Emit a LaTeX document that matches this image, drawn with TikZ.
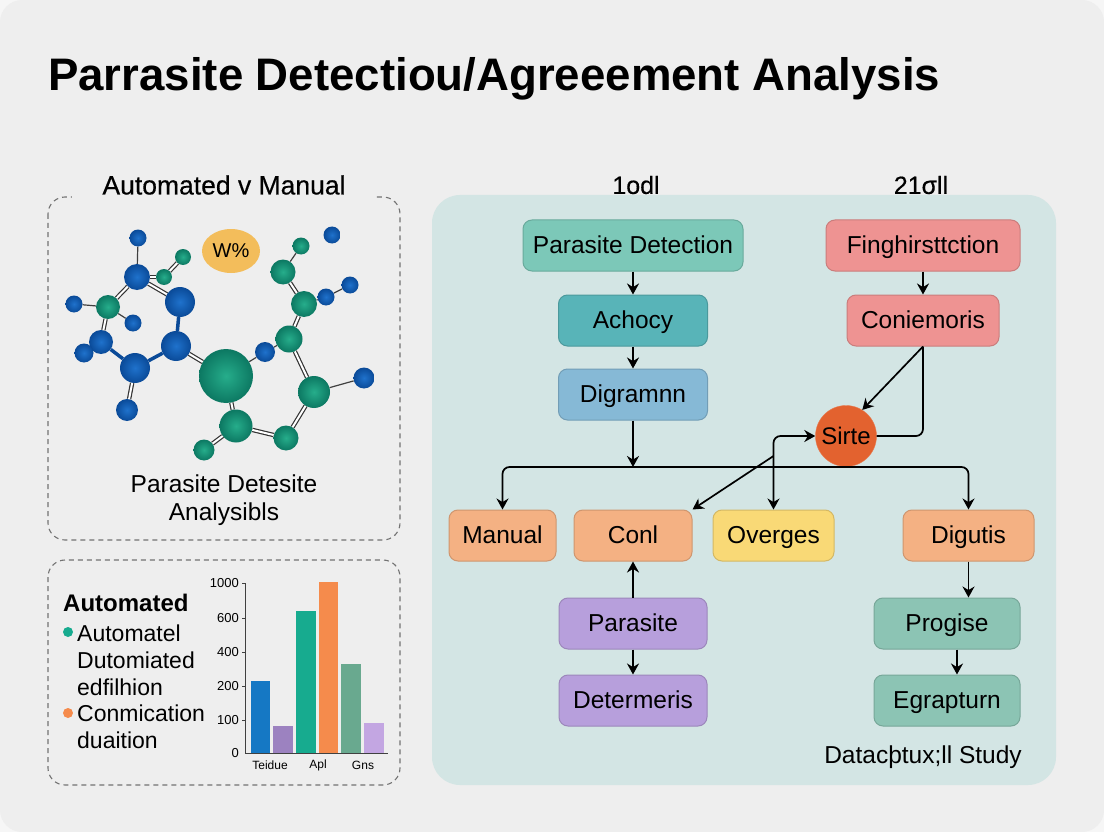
\documentclass[tikz,border=0pt]{standalone}
\usepackage{fontspec}
\setmainfont{Liberation Sans}
\newfontfamily\medfont[FakeBold=0.4]{Liberation Sans}
\usepackage{xcolor}
\usetikzlibrary{arrows.meta,positioning,calc,backgrounds,shapes.geometric}
\definecolor{outerbg}{HTML}{F6F6F6}
\definecolor{pagebg}{HTML}{EEEEEE}
\definecolor{panelbg}{HTML}{D3E5E4}
\definecolor{tealbox}{HTML}{7CC8B8}
\definecolor{cyanbox}{HTML}{58B4B8}
\definecolor{bluebox}{HTML}{86B9D6}
\definecolor{redbox}{HTML}{EE9392}
\definecolor{orangebox}{HTML}{F4B183}
\definecolor{yellowbox}{HTML}{F9D976}
\definecolor{purplebox}{HTML}{B79FDC}
\definecolor{greenbox}{HTML}{8CC4B4}
\definecolor{atomblue}{HTML}{1F72CC}
\definecolor{atomblued}{HTML}{0A4A98}
\definecolor{atomgreen}{HTML}{26AD8B}
\definecolor{atomgreend}{HTML}{0C7862}
\definecolor{badgec}{HTML}{F3BD5B}
\definecolor{sirtec}{HTML}{E3622F}
\definecolor{barblue}{HTML}{1578C4}
\definecolor{barteal}{HTML}{17AB8F}
\definecolor{barorange}{HTML}{F58B4C}
\definecolor{bargreen}{HTML}{69A98F}
\definecolor{barpurple}{HTML}{9C82C0}
\definecolor{barlilac}{HTML}{C3A6E2}
\newcommand{\fs}[1]{\fontsize{#1}{#1}\selectfont}

\begin{document}
\begin{tikzpicture}[x=1pt,y=-1pt,
    bx/.style={draw=#1!85!black,fill=#1,rounded corners=9pt,line width=1pt,minimum height=51pt,align=center,text height=21pt,text depth=5pt,inner ysep=0pt,font=\fs{24.5}},
    ar/.style={-{Stealth[length=11pt,width=12pt]},line width=1.7pt},
    ln/.style={line width=1.7pt},
    bl/.style={circle,inner sep=0pt,inner color=atomblue,outer color=atomblued,minimum size=#1},
    gr/.style={circle,inner sep=0pt,inner color=atomgreen,outer color=atomgreend,minimum size=#1},
    sb/.style={draw=black!75,line width=1.2pt},
    db/.style={draw=black!80,line width=1.2pt,double=white,double distance=2pt},
    bb/.style={draw=atomblued,line width=3.5pt},
    dp/.style={draw=black!55,dash pattern=on 5pt off 4pt,line width=1.1pt,rounded corners=17pt},
    tick/.style={font=\fs{13},anchor=east,inner sep=0pt}
]
\useasboundingbox (0,0) rectangle (1104,832);
\begin{scope}[on background layer]
\fill[outerbg] (0,0) rectangle (1104,832);
\fill[pagebg,rounded corners=22pt] (0,0) rectangle (1104,832);
\fill[panelbg,rounded corners=28pt] (432,195) rectangle (1056,785);
\end{scope}

% title and headings
\node[font=\bfseries\fs{45.6},anchor=west,inner sep=0pt] (title) at (48,79) {Parrasite Detectiou/Agreeement Analysis};
\draw[dp] (48,197) rectangle (400,540);
\draw[dp] (48,560) rectangle (400,785);
\node[font=\medfont\fs{26.5},fill=pagebg,inner sep=3pt,minimum width=304pt] (left) at (224,185) {Automated v Manual};
\node[font=\medfont\fs{25}] (one) at (636,185) {1odl};
\node[font=\medfont\fs{25}] (two) at (921,185) {21σll};

% molecule
\node[ellipse,fill=badgec,minimum width=58pt,minimum height=44pt,inner sep=0pt,font=\fs{20}] (badge) at (231,251) {W\%};
\node[bl=17pt] (a1) at (138,238) {};
\node[bl=26pt] (a2) at (137,277) {};
\node[bl=30pt] (a3) at (180,302) {};
\node[bl=17pt] (a4) at (74,304) {};
\node[bl=17pt] (a5) at (133,323) {};
\node[bl=24pt] (a6) at (101,342) {};
\node[bl=19pt] (a7) at (84,353) {};
\node[bl=30pt] (a8) at (176,346) {};
\node[bl=30pt] (a9) at (135,368) {};
\node[bl=22pt] (a10) at (127,410) {};
\node[bl=20pt] (a11) at (265,352) {};
\node[bl=17pt] (a12) at (326,297) {};
\node[bl=17pt] (a13) at (350,285) {};
\node[bl=17pt] (a14) at (332,235) {};
\node[bl=21pt] (a15) at (364,378) {};
\node[gr=16pt] (g1) at (183,257) {};
\node[gr=16pt] (g2) at (164,277) {};
\node[gr=24pt] (g3) at (108,307) {};
\node[gr=54pt] (g4) at (226,376) {};
\node[gr=27pt] (g5) at (289,339) {};
\node[gr=26pt] (g6) at (304,304) {};
\node[gr=25pt] (g7) at (283,272) {};
\node[gr=17pt] (g8) at (301,246) {};
\node[gr=32pt] (g9) at (314,392) {};
\node[gr=25pt] (g10) at (286,438) {};
\node[gr=33pt] (g11) at (236,426) {};
\node[gr=21pt] (g12) at (204,450) {};
\begin{scope}[on background layer]
\draw[sb] (a1) -- (a2);
\draw[db] (a2) -- (g2);
\draw[db] (g2) -- (g1);
\draw[db] (a2) -- (a3);
\draw[db] (a2) -- (g3);
\draw[sb] (g3) -- (a4);
\draw[sb] (g3) -- (a5);
\draw[db] (g3) -- (a6);
\draw[bb] (a6) -- (a7);
\draw[bb] (a6) -- (a9);
\draw[bb] (a9) -- (a8);
\draw[bb] (a3) -- (a8);
\draw[db] (a9) -- (a10);
\draw[db] (a8) -- (g4);
\draw[sb] (g4) -- (a11);
\draw[sb] (a11) -- (g5);
\draw[db] (g4) -- (g11);
\draw[db] (g11) -- (g10);
\draw[db] (g11) -- (g12);
\draw[db] (g10) -- (g9);
\draw[sb] (g9) -- (a15);
\draw[db] (g9) -- (g5);
\draw[db] (g5) -- (g6);
\draw[db] (g6) -- (g7);
\draw[sb] (g7) -- (g8);
\draw[sb] (g6) -- (a12);
\draw[sb] (a12) -- (a13);
\end{scope}
\node[font=\fs{24.5},align=center,inner sep=0pt] (cap) at (224,500) {Parasite Detesite\\[3pt]Analysibls};

% legend
\node[font=\bfseries\fs{24},anchor=west,inner sep=0pt] (lhead) at (63,603) {Automated};
\node[circle,fill=barteal,minimum size=10pt,inner sep=0pt] (dot1) at (68,632) {};
\node[circle,fill=barorange,minimum size=10pt,inner sep=0pt] (dot2) at (68,713) {};
\node[font=\fs{23},anchor=west,inner sep=0pt] (l1) at (77,633) {Automatel};
\node[font=\fs{23},anchor=west,inner sep=0pt] (l2) at (77,660) {Dutomiated};
\node[font=\fs{23},anchor=west,inner sep=0pt] (l3) at (77,687) {edfilhion};
\node[font=\fs{23},anchor=west,inner sep=0pt] (l4) at (77,713) {Conmication};
\node[font=\fs{23},anchor=west,inner sep=0pt] (l5) at (77,740) {duaition};

% bar chart
\fill[barblue] (251,681) rectangle (270,753);
\fill[barpurple] (273,726) rectangle (293,753);
\fill[barteal] (296,611) rectangle (316,753);
\fill[barorange] (319,582) rectangle (338,753);
\fill[bargreen] (341,664) rectangle (361,753);
\fill[barlilac] (364,723) rectangle (384,753);
\draw[black!75,line width=1pt] (245,583) -- (245,753) -- (388,753);
\draw[black!75,line width=1pt] (242,583) -- (245,583);
\draw[black!75,line width=1pt] (242,618) -- (245,618);
\draw[black!75,line width=1pt] (242,652) -- (245,652);
\draw[black!75,line width=1pt] (242,686) -- (245,686);
\draw[black!75,line width=1pt] (242,720) -- (245,720);
\node[tick] at (239,583) {1000};
\node[tick] at (239,618) {600};
\node[tick] at (239,652) {400};
\node[tick] at (239,686) {200};
\node[tick] at (239,720) {100};
\node[tick] at (239,753) {0};
\node[font=\fs{12}] at (270,765) {Teidue};
\node[font=\fs{12}] at (318,765) {Apl};
\node[font=\fs{12}] at (363,765) {Gns};

% flow, left column
\node[bx=tealbox,minimum width=220pt] (det) at (633,245.5) {Parasite Detection};
\node[bx=cyanbox,minimum width=149pt,below=23pt of det] (ach) {Achocy};
\node[bx=bluebox,minimum width=149pt,below=22pt of ach] (dig) {Digramnn};
% flow, right column
\node[bx=redbox,minimum width=194pt] (fin) at (923,245.5) {Finghirsttction};
\node[bx=redbox,minimum width=152pt,below=23pt of fin] (con) {Coniemoris};
\node[circle,fill=sirtec,draw=sirtec!85!white,minimum size=61pt,inner sep=0pt,font=\fs{24}] (sir) at (846,436) {Sirte};
% middle row
\node[bx=orangebox,minimum width=107pt] (man) at (502.5,535.5) {Manual};
\node[bx=orangebox,minimum width=118pt] (cnl) at (633,535.5) {Conl};
\node[bx=yellowbox,minimum width=121pt] (ovr) at (773.5,535.5) {Overges};
\node[bx=orangebox,minimum width=131pt] (dgt) at (968.5,535.5) {Digutis};
% lower rows
\node[bx=purplebox,minimum width=148pt] (par) at (633,623.5) {Parasite};
\node[bx=purplebox,minimum width=148pt,below=25pt of par] (dtr) {Determeris};
\node[bx=greenbox,minimum width=146pt] (pro) at (947,623.5) {Progise};
\node[bx=greenbox,minimum width=146pt,below=25pt of pro] (egr) {Egrapturn};
\node[font=\fs{24.5},inner sep=0pt] (study) at (923,757) {Datac\th tux;ll Study};

\coordinate (bus) at (dig.south |- 0,467);
\coordinate (cross) at (ovr.north |- 0,456);
\coordinate (pgo) at ([xshift=10pt]pro.south);
\draw[ar] (det) -- (ach);
\draw[ar] (ach) -- (dig);
\draw[ar] (dig) -- (bus);
\draw[ar,rounded corners=7pt] (bus) -| (man.north);
\draw[ar,rounded corners=7pt] (bus) -| (dgt.north);
\draw[ar] (fin) -- (con);
\draw[ar] (con.south) -- (sir.58);
\draw[ln,rounded corners=7pt] (sir.east) -| (con.south);
\draw[{Stealth[length=11pt,width=12pt]}-{Stealth[length=11pt,width=12pt]},line width=1.7pt,rounded corners=7pt] (sir.west) -| (ovr.north);
\draw[ar] (cross) -- (cnl.north east);
\draw[ar] (par) -- (cnl);
\draw[ar] (par) -- (dtr);
\draw[ar] (dgt.south) -- (dgt.south |- pro.north);
\draw[ar] (pgo) -- (pgo |- egr.north);
\end{tikzpicture}
\end{document}
